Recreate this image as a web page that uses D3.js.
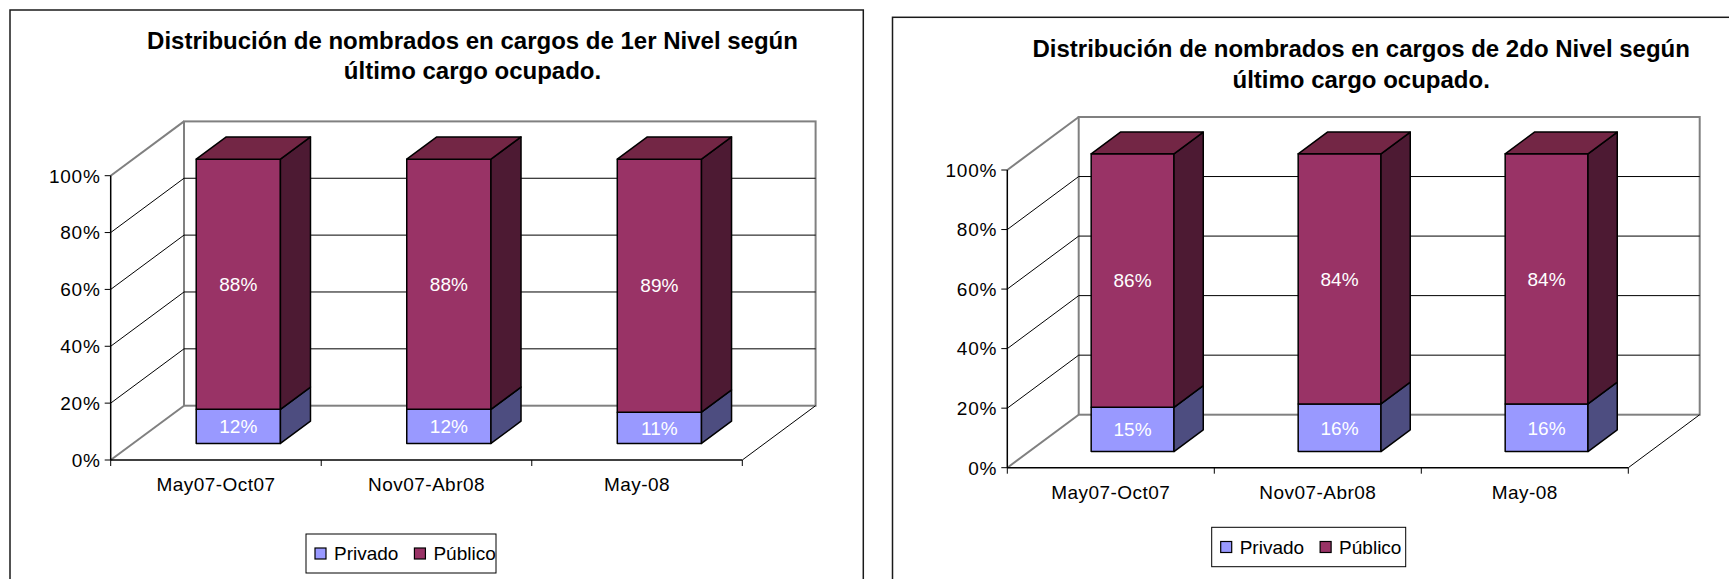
<!DOCTYPE html>
<html><head><meta charset="utf-8">
<script src="https://cdn.jsdelivr.net/npm/d3@7"></script>
<style>html,body{margin:0;padding:0;background:#fff;overflow:hidden;} svg{display:block;}</style>
</head><body>
<svg id="chart" width="1729" height="579"></svg>
<script>
// ---- data ----
const categories = ["May07-Oct07", "Nov07-Abr08", "May-08"];
const seriesNames = ["Privado", "Público"];
const privado1 = [12, 12, 11];
const publico1 = [88, 88, 89];
const privado2 = [15, 16, 16];
const publico2 = [86, 84, 84];
const yTicks = [0, 0.2, 0.4, 0.6, 0.8, 1];
const title1 = ["Distribución de nombrados en cargos de 1er Nivel según", "último cargo ocupado."];
const title2 = ["Distribución de nombrados en cargos de 2do Nivel según", "último cargo ocupado."];

// ---- styles ----
const colors = {
  "Privado": {front: "#9999FF", side: "#4D4D80", top: "#7373BF"},
  "Público": {front: "#993366", side: "#4D1A33", top: "#732645"}
};
const FONT = "'Liberation Sans', Arial, sans-serif";

const svg = d3.select("#chart");
svg.append("rect").attr("width", 1729).attr("height", 579).attr("fill", "#fff");

function drawChart(L, privado, publico, title) {
  const g = svg.append("g");
  // outer border
  g.append("rect").attr("x", L.bx).attr("y", L.by).attr("width", L.bw).attr("height", 700)
    .attr("fill", "none").attr("stroke", "#1a1a1a").attr("stroke-width", 1.5);

  // title
  title.forEach((t, i) => {
    g.append("text").attr("x", L.tx).attr("y", L.ty[i]).attr("text-anchor", "middle")
      .attr("font-family", FONT).attr("font-weight", "bold").attr("font-size", 24)
      .attr("fill", "#000").text(t);
  });

  const x = d3.scaleBand().domain(categories).range([L.x0, L.x0 + L.W]).paddingInner(0.6).paddingOuter(0.3);
  const y = d3.scaleLinear().domain([0, 1]).range([L.y0, L.y100]);
  const dx = L.dx, dy = L.dy;
  const z0 = 0.305, z1 = 0.715;
  const P = (px, py, z) => [px + z * dx, py + z * dy];

  // back wall
  g.append("rect").attr("x", L.x0 + dx).attr("y", y(1) + dy).attr("width", L.W).attr("height", y(0) - y(1))
    .attr("fill", "none").attr("stroke", "#808080").attr("stroke-width", 2);
  // gridlines on back wall and side wall
  yTicks.forEach(v => {
    const inner = v > 0 && v < 1;
    if (inner) {
      g.append("line").attr("x1", L.x0 + dx).attr("x2", L.x0 + L.W + dx)
        .attr("y1", y(v) + dy).attr("y2", y(v) + dy).attr("stroke", "#000").attr("stroke-width", 1);
    }
    g.append("line").attr("x1", L.x0).attr("y1", y(v)).attr("x2", L.x0 + dx).attr("y2", y(v) + dy)
      .attr("stroke", inner ? "#000" : "#808080").attr("stroke-width", inner ? 1 : 2);
  });
  // floor right diagonal
  g.append("line").attr("x1", L.x0 + L.W).attr("y1", y(0)).attr("x2", L.x0 + L.W + dx).attr("y2", y(0) + dy)
    .attr("stroke", "#000").attr("stroke-width", 1);
  // front axes
  g.append("line").attr("x1", L.x0).attr("x2", L.x0 + L.W).attr("y1", y(0)).attr("y2", y(0))
    .attr("stroke", "#000").attr("stroke-width", 1.5);
  g.append("line").attr("x1", L.x0).attr("x2", L.x0).attr("y1", y(0)).attr("y2", y(1))
    .attr("stroke", "#000").attr("stroke-width", 1.5);
  // y ticks + labels
  yTicks.forEach(v => {
    g.append("line").attr("x1", L.x0 - 6).attr("x2", L.x0).attr("y1", y(v)).attr("y2", y(v))
      .attr("stroke", "#000").attr("stroke-width", 1);
    g.append("text").attr("x", L.x0 - 10).attr("y", y(v)).attr("dy", "0.36em")
      .attr("text-anchor", "end").attr("font-family", FONT).attr("font-size", 19)
      .attr("letter-spacing", 0.8).attr("fill", "#000").text(d3.format(".0%")(v));
  });
  // category ticks
  const step = x.step();
  d3.range(categories.length + 1).forEach(i => {
    const px = L.x0 + i * step;
    g.append("line").attr("x1", px).attr("x2", px).attr("y1", y(0)).attr("y2", y(0) + 6)
      .attr("stroke", "#000").attr("stroke-width", 1);
  });
  categories.forEach(c => {
    g.append("text").attr("x", x(c) + x.bandwidth() / 2).attr("y", y(0) + 31)
      .attr("text-anchor", "middle").attr("font-family", FONT).attr("font-size", 19)
      .attr("letter-spacing", 0.45).attr("fill", "#000").text(c);
  });

  // bars
  const rows = categories.map((c, i) => ({cat: c, "Privado": privado[i], "Público": publico[i]}));
  const stacked = d3.stack().keys(seriesNames).offset(d3.stackOffsetExpand)(rows);
  const bw = x.bandwidth();
  const line = d3.line();
  categories.forEach((c, ci) => {
    stacked.forEach((s, si) => {
      const d = s[ci];
      const col = colors[s.key];
      const xl = x(c), xr = x(c) + bw;
      const yb = y(d[0]), yt = y(d[1]);
      const front = [P(xl, yb, z0), P(xr, yb, z0), P(xr, yt, z0), P(xl, yt, z0)];
      const side = [P(xr, yb, z0), P(xr, yb, z1), P(xr, yt, z1), P(xr, yt, z0)];
      const add = (pts, fill) => {
        g.append("path").attr("d", line(pts) + "Z").attr("fill", fill)
          .attr("stroke", "#000").attr("stroke-width", 1.5).attr("stroke-linejoin", "round");
      };
      add(front, col.front);
      add(side, col.side);
      if (si === stacked.length - 1) {
        add([P(xl, yt, z0), P(xr, yt, z0), P(xr, yt, z1), P(xl, yt, z1)], col.top);
      }
      const lc = P(xl + bw / 2, (yb + yt) / 2, z0);
      g.append("text").attr("x", lc[0]).attr("y", lc[1]).attr("dy", "0.36em")
        .attr("text-anchor", "middle").attr("font-family", FONT).attr("font-size", 19)
        .attr("fill", "#fff").text(rows[ci][s.key] + "%");
    });
  });

  // legend
  const lg = g.append("g");
  lg.append("rect").attr("x", L.lx).attr("y", L.ly).attr("width", L.lw).attr("height", L.lh)
    .attr("fill", "#fff").attr("stroke", "#000").attr("stroke-width", 1);
  let cx = L.lx + 9;
  const cy = L.ly + L.lh / 2;
  seriesNames.forEach(name => {
    lg.append("rect").attr("x", cx).attr("y", cy - 5.5).attr("width", 11).attr("height", 11)
      .attr("fill", colors[name].front).attr("stroke", "#000").attr("stroke-width", 1.2);
    const t = lg.append("text").attr("x", cx + 19).attr("y", cy).attr("dy", "0.36em")
      .attr("font-family", FONT).attr("font-size", 19).attr("fill", "#000").text(name);
    cx = cx + 19 + t.node().getComputedTextLength() + 16;
  });
}

drawChart({bx: 10, by: 10, bw: 853.3, tx: 472.5, ty: [48.5, 78.5],
  x0: 110.7, y0: 460, y100: 175.7, W: 631.6, dx: 73.3, dy: -54.3,
  lx: 306, ly: 534, lw: 190, lh: 39}, privado1, publico1, title1);

drawChart({bx: 892.5, by: 17.3, bw: 900, tx: 1361.2, ty: [56.7, 88.2],
  x0: 1007.3, y0: 467.7, y100: 170, W: 621, dx: 71.4, dy: -53,
  lx: 1211.7, ly: 527.3, lw: 194, lh: 39.4}, privado2, publico2, title2);
</script>
</body></html>
